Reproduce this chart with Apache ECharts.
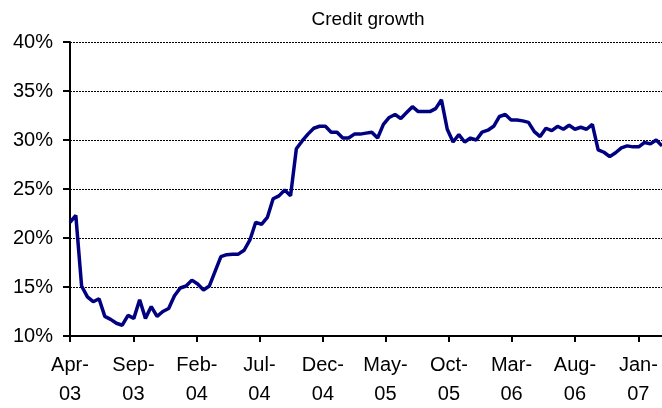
<!DOCTYPE html>
<html>
<head>
<meta charset="utf-8">
<script src="https://cdn.jsdelivr.net/npm/echarts@6/dist/echarts.min.js"></script>
<style>
html,body{margin:0;padding:0;background:#fff;}
#chart{width:662px;height:408px;}
</style>
</head>
<body>
<div id="chart"></div>
<script>
// Biweekly observations starting 1 Apr 2003
var startDate = [2003, 3, 1];   // year, month index, day
var stepDays = 14;
var creditGrowth = [
  21.6, 22.3, 15.1, 14.0, 13.5, 13.8, 12.0, 11.7, 11.3, 11.1,
  12.1, 11.8, 13.7, 11.8, 13.0, 12.0, 12.5, 12.8, 14.1, 14.9,
  15.1, 15.7, 15.3, 14.7, 15.1, 16.6, 18.1, 18.3, 18.35, 18.35,
  18.75, 19.8, 21.6, 21.4, 22.1, 24.0, 24.3, 24.9, 24.3, 29.1,
  29.9, 30.6, 31.2, 31.4, 31.4, 30.8, 30.8, 30.2, 30.2, 30.6,
  30.6, 30.7, 30.8, 30.2, 31.6, 32.3, 32.6, 32.2, 32.8, 33.4,
  32.9, 32.9, 32.9, 33.2, 34.1, 31.1, 29.8, 30.55, 29.8, 30.2,
  30.0, 30.8, 31.0, 31.4, 32.4, 32.6, 32.05, 32.05, 31.95, 31.8,
  30.85, 30.35, 31.2, 30.95, 31.4, 31.1, 31.5, 31.1, 31.3, 31.1,
  31.6, 29.0, 28.75, 28.3, 28.7, 29.2, 29.4, 29.3, 29.3, 29.75,
  29.6, 30.0, 29.4
];
var tickDates = [
  [2003, 3], [2003, 8], [2004, 1], [2004, 6], [2004, 11],
  [2005, 4], [2005, 9], [2006, 2], [2006, 7], [2007, 0]
];
var tickLabels = ['Apr-\n03', 'Sep-\n03', 'Feb-\n04', 'Jul-\n04', 'Dec-\n04',
                  'May-\n05', 'Oct-\n05', 'Mar-\n06', 'Aug-\n06', 'Jan-\n07'];
var yTicks = [10, 15, 20, 25, 30, 35, 40];

// x is expressed as days since the start date
var DAY = 86400000;
var t0 = Date.UTC(startDate[0], startDate[1], startDate[2]);
var seriesData = creditGrowth.map(function (v, i) { return [i * stepDays, v]; });
var tickDays = tickDates.map(function (d) { return Math.round((Date.UTC(d[0], d[1], 1) - t0) / DAY); });
var labelMap = {};
tickDays.forEach(function (t, i) { labelMap[t] = tickLabels[i]; });

var chart = echarts.init(document.getElementById('chart'), null, {renderer: 'canvas'});
var font = 'Liberation Sans, Arial, sans-serif';
chart.setOption({
  animation: false,
  backgroundColor: '#fff',
  title: {
    text: 'Credit growth',
    left: 363,
    textAlign: 'center',
    top: 5,
    textStyle: {fontFamily: font, fontSize: 19, fontWeight: 'normal', color: '#000'}
  },
  grid: {left: 70, right: 0, top: 42, bottom: 72, containLabel: false, outerBoundsMode: 'none'},
  xAxis: {
    type: 'value',
    min: 0,
    max: seriesData[seriesData.length - 1][0],
    splitLine: {show: false},
    axisLine: {show: true, lineStyle: {color: '#000', width: 2}},
    axisTick: {show: true, customValues: tickDays, length: 6, inside: false, lineStyle: {color: '#000', width: 2}},
    axisLabel: {
      customValues: tickDays,
      formatter: function (v) { return labelMap[v] || ''; },
      fontFamily: font, fontSize: 20, color: '#000', lineHeight: 29, margin: 15,
      hideOverlap: false, showMinLabel: true, showMaxLabel: true
    }
  },
  yAxis: {
    type: 'value',
    min: yTicks[0],
    max: yTicks[yTicks.length - 1],
    interval: 5,
    axisLine: {show: true, lineStyle: {color: '#000', width: 2}},
    axisTick: {show: true, length: 7, inside: false, lineStyle: {color: '#000', width: 2}},
    axisLabel: {formatter: '{value}%', fontFamily: font, fontSize: 20, color: '#000', margin: 17},
    splitLine: {show: true, lineStyle: {color: '#000', width: 1, type: [2, 1]}}
  },
  series: [{
    type: 'line',
    data: seriesData,
    showSymbol: false,
    symbol: 'none',
    lineStyle: {color: '#000080', width: 3.5},
    itemStyle: {color: '#000080'}
  }]
});
</script>
</body>
</html>
